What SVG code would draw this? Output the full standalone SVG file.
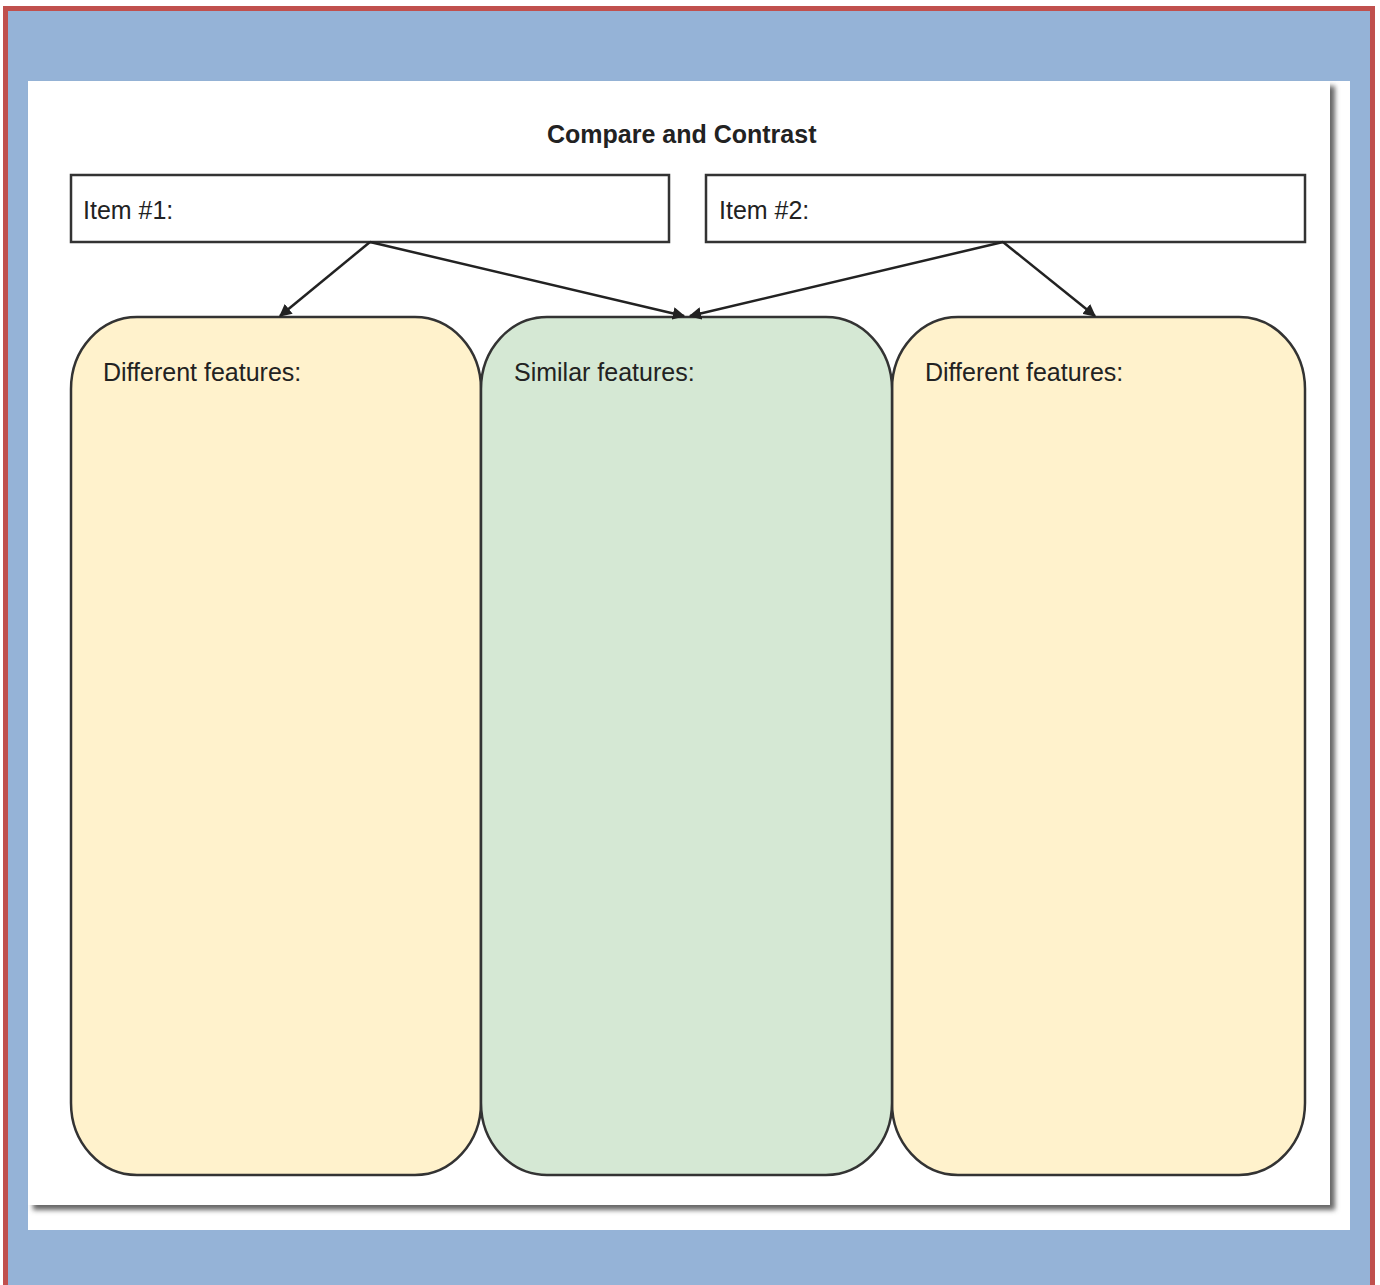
<svg xmlns="http://www.w3.org/2000/svg" width="1380" height="1285" viewBox="0 0 1380 1285">
<defs>
<style>
.lbl{font-family:"Liberation Sans",Arial,sans-serif;font-size:25px;fill:#222}
.title{font-family:"Liberation Sans",Arial,sans-serif;font-size:25px;font-weight:bold;fill:#222}
.box{fill:#fff;stroke:#333;stroke-width:2.5}
.yel{fill:#FFF2CC;stroke:#333;stroke-width:2.5}
.grn{fill:#D5E8D4;stroke:#333;stroke-width:2.5}
.conn{stroke:#222;stroke-width:2.5;fill:none;marker-end:url(#ah)}
</style>
<marker id="ah" viewBox="0 0 10 10" refX="9" refY="5" markerWidth="5" markerHeight="5" orient="auto" markerUnits="strokeWidth">
<path d="M0,0 L10,5 L0,10 z" fill="#222"/>
</marker>
<filter id="blur" x="-5%" y="-5%" width="110%" height="110%"><feGaussianBlur stdDeviation="2.5"/></filter>
</defs>
<rect x="0" y="0" width="1380" height="1285" fill="#fff"/>
<rect x="5.5" y="8.5" width="1367" height="1290" fill="#95B3D7" stroke="#C0504D" stroke-width="5"/>
<rect x="28" y="81" width="1322" height="1149" fill="#fff"/>
<rect x="33" y="86" width="1302" height="1124" fill="#666" filter="url(#blur)"/>
<rect x="28" y="81" width="1302" height="1124" fill="#fff"/>
<text class="title" x="547" y="143">Compare and Contrast</text>
<g id="item1">
<rect class="box" x="71" y="175" width="598" height="67"/>
<text class="lbl" x="83" y="219">Item #1:</text>
</g>
<g id="item2">
<rect class="box" x="706" y="175" width="599" height="67"/>
<text class="lbl" x="719" y="219">Item #2:</text>
</g>
<g id="diff1">
<rect class="yel" x="71" y="317" width="410" height="858" rx="66" ry="72"/>
<text class="lbl" x="103" y="381">Different features:</text>
</g>
<g id="diff2">
<rect class="yel" x="892" y="317" width="413" height="858" rx="66" ry="72"/>
<text class="lbl" x="925" y="381">Different features:</text>
</g>
<g id="similar">
<rect class="grn" x="481" y="317" width="411" height="858" rx="66" ry="72"/>
<text class="lbl" x="514" y="381">Similar features:</text>
</g>
<g id="connectors">
<line class="conn" x1="370" y1="242" x2="280" y2="316"/>
<line class="conn" x1="370" y1="242" x2="684" y2="316"/>
<line class="conn" x1="1003" y1="242" x2="690" y2="316"/>
<line class="conn" x1="1003" y1="242" x2="1095" y2="316"/>
</g>
</svg>
